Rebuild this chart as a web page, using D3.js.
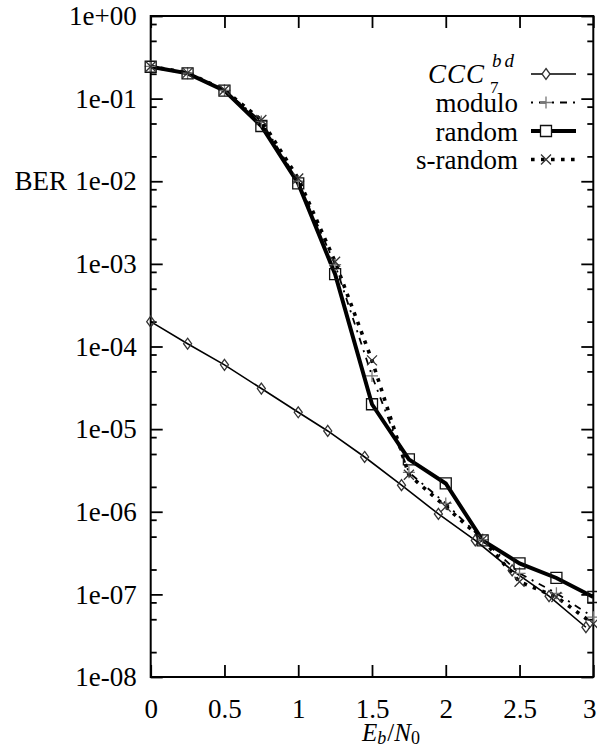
<!DOCTYPE html>
<html>
<head>
<meta charset="utf-8">
<script src="https://cdn.jsdelivr.net/npm/d3@7"></script>
<style>
body { margin: 0; background: #fff; }
text { font-family: "Liberation Serif", "Times New Roman", serif; fill: #000; }
</style>
</head>
<body>
<div class="d3-container"></div>
<script>
const w = 597
const h = 749

// data
const ebno = [0, 0.25, 0.5, 0.75, 1, 1.25, 1.5, 1.75, 2, 2.25, 2.5, 2.75, 3]
const cccEbno = [0, 0.25, 0.5, 0.75, 1, 1.2, 1.45, 1.7, 1.95, 2.2, 2.45, 2.7, 2.95]
const cccBer = [2.0e-4, 1.08e-4, 6.0e-5, 3.1e-5, 1.6e-5, 9.5e-6, 4.6e-6, 2.1e-6, 9.4e-7, 4.5e-7, 1.95e-7, 9.5e-8, 4.0e-8]
const moduloBer = [0.245, 0.203, 0.126, 0.053, 0.0100, 9.8e-4, 4.4e-5, 3.0e-6, 1.26e-6, 4.6e-7, 1.8e-7, 1.03e-7, 5.3e-8]
const randomBer = [0.243, 0.202, 0.125, 0.0466, 0.0094, 7.5e-4, 2.0e-5, 4.3e-6, 2.2e-6, 4.5e-7, 2.37e-7, 1.58e-7, 9.3e-8]
const srandomBer = [0.245, 0.205, 0.127, 0.055, 0.0108, 1.06e-3, 6.8e-5, 2.8e-6, 1.15e-6, 4.6e-7, 1.42e-7, 9.3e-8, 4.4e-8]

const xTicks = [0, 0.5, 1, 1.5, 2, 2.5, 3]
const xTickLabels = ['0', '0.5', '1', '1.5', '2', '2.5', '3']
const yTicks = [1, 1e-1, 1e-2, 1e-3, 1e-4, 1e-5, 1e-6, 1e-7, 1e-8]
const yTickLabels = ['1e+00', '1e-01', '1e-02', '1e-03', '1e-04', '1e-05', '1e-06', '1e-07', '1e-08']
const yMinorSteps = [0.8, 0.5, 0.2]

const pLeft = 150.7
const pRight = 593.3
const pTop = 16
const pBottom = 677
const fs = 27

const svg = d3.select('.d3-container')
    .append('svg')
    .attr('width', w)
    .attr('height', h)

svg.append('rect').attr('width', w).attr('height', h).attr('fill', '#fff')

const x = d3.scaleLinear().domain([0, 3]).range([pLeft, pRight])
const y = d3.scaleLog().domain([1e-8, 1]).range([pBottom, pTop])

const yMinor = []
yTicks.slice(0, -1).forEach(t => yMinorSteps.forEach(s => yMinor.push(t * s)))

// axes, ticks pointing inward like gnuplot
const styleAxis = (g) => {
    g.select('.domain').remove()
    g.selectAll('.tick line').attr('stroke', '#000').attr('stroke-width', 1.8)
    g.selectAll('.tick text').style('font-size', fs + 'px').attr('font-family', null)
}

const xAxisG = svg.append('g')
    .attr('transform', `translate(0,${pBottom})`)
    .call(d3.axisBottom(x).tickValues(xTicks).tickFormat((d, i) => xTickLabels[i])
        .tickSize(-12).tickSizeOuter(0).tickPadding(22))
    .call(styleAxis)
// last label sits against the page edge
xAxisG.selectAll('.tick text').filter(d => d === 3).attr('dx', -4)

svg.append('g')
    .attr('transform', `translate(0,${pTop})`)
    .call(d3.axisTop(x).tickValues(xTicks).tickFormat('').tickSize(-12).tickSizeOuter(0))
    .call(styleAxis)

svg.append('g')
    .attr('transform', `translate(${pLeft},0)`)
    .call(d3.axisLeft(y).tickValues(yTicks).tickFormat((d, i) => yTickLabels[i])
        .tickSize(-12).tickSizeOuter(0).tickPadding(14))
    .call(styleAxis)

svg.append('g')
    .attr('transform', `translate(${pLeft},0)`)
    .call(d3.axisLeft(y).tickValues(yMinor).tickFormat('').tickSize(-6).tickSizeOuter(0))
    .call(styleAxis)

svg.append('g')
    .attr('transform', `translate(${pRight},0)`)
    .call(d3.axisRight(y).tickValues(yTicks).tickFormat('').tickSize(-12).tickSizeOuter(0))
    .call(styleAxis)

svg.append('g')
    .attr('transform', `translate(${pRight},0)`)
    .call(d3.axisRight(y).tickValues(yMinor).tickFormat('').tickSize(-6).tickSizeOuter(0))
    .call(styleAxis)

svg.append('rect')
    .attr('x', pLeft).attr('y', pTop)
    .attr('width', pRight - pLeft).attr('height', pBottom - pTop)
    .attr('fill', 'none').attr('stroke', '#000').attr('stroke-width', 2)

// axis titles
svg.append('text')
    .attr('x', 67).attr('y', y(1e-2)).attr('dy', '0.33em')
    .attr('text-anchor', 'end').style('font-size', fs + 'px')
    .text('BER')

const xt = svg.append('text').attr('x', 362).attr('y', 741).style('font-size', '25px')
xt.append('tspan').attr('font-style', 'italic').text('E')
xt.append('tspan').attr('font-style', 'italic').attr('dy', 3).style('font-size', '18px').text('b')
xt.append('tspan').attr('dy', -3).attr('dx', 1).text('/')
xt.append('tspan').attr('font-style', 'italic').text('N')
xt.append('tspan').attr('dy', 3).style('font-size', '18px').text('0')

// series
const series = [
    { name: 'ccc', xs: cccEbno, ys: cccBer, width: 1.6, dash: null, marker: 'diamond', color: '#333' },
    { name: 'modulo', xs: ebno, ys: moduloBer, width: 1.8, dash: '2,6,7,6', marker: 'plus', color: '#777' },
    { name: 'random', xs: ebno, ys: randomBer, width: 4, dash: null, marker: 'square', color: '#111' },
    { name: 'srandom', xs: ebno, ys: srandomBer, width: 3.6, dash: '3.6,6.4', marker: 'cross', color: '#333' }
]

const markerPath = {
    diamond: 'M0,-5.5L4,0L0,5.5L-4,0Z',
    plus: 'M-6,0H6M0,-6V6',
    square: 'M-5.5,-5.5H5.5V5.5H-5.5Z',
    cross: 'M-5,-5L5,5M-5,5L5,-5'
}

const line = d3.line().x(d => x(d[0])).y(d => y(d[1]))

series.forEach(s => {
    const pts = s.xs.map((v, i) => [v, s.ys[i]])
    svg.append('path')
        .datum(pts)
        .attr('d', line)
        .attr('fill', 'none')
        .attr('stroke', '#000')
        .attr('stroke-width', s.width)
        .attr('stroke-dasharray', s.dash)
})

series.forEach(s => {
    const pts = s.xs.map((v, i) => [v, s.ys[i]])
    svg.append('g')
        .selectAll('path')
        .data(pts)
        .enter()
        .append('path')
        .attr('transform', d => `translate(${x(d[0])},${y(d[1])})`)
        .attr('d', markerPath[s.marker])
        .attr('fill', 'none')
        .attr('stroke', s.color)
        .attr('stroke-width', 1.3)
})

// legend
const legendY = [74, 102.5, 131, 159.5]
const legend = svg.append('g')
series.forEach((s, i) => {
    const ly = legendY[i]
    legend.append('line')
        .attr('x1', 531).attr('x2', 576).attr('y1', ly).attr('y2', ly)
        .attr('stroke', '#000').attr('stroke-width', s.width)
        .attr('stroke-dasharray', s.dash)
    legend.append('path')
        .attr('transform', `translate(546,${ly})`)
        .attr('d', markerPath[s.marker])
        .attr('fill', s.marker === 'diamond' || s.marker === 'square' ? '#fff' : 'none')
        .attr('stroke', s.color).attr('stroke-width', 1.3)
})

legend.append('text').attr('x', 485).attr('y', 83).attr('text-anchor', 'end')
    .attr('font-style', 'italic').style('font-size', fs + 'px').style('letter-spacing', '1px').text('CCC')
legend.append('text').attr('x', 490).attr('y', 93).style('font-size', '17px').text('7')
legend.append('text').attr('x', 492).attr('y', 67).attr('font-style', 'italic')
    .style('font-size', '19px').style('letter-spacing', '3px').text('bd')

const names = ['modulo', 'random', 's-random']
names.forEach((n, i) => {
    legend.append('text')
        .attr('x', 518).attr('y', legendY[i + 1] + 9.5)
        .attr('text-anchor', 'end').style('font-size', fs + 'px')
        .text(n)
})
</script>
</body>
</html>
